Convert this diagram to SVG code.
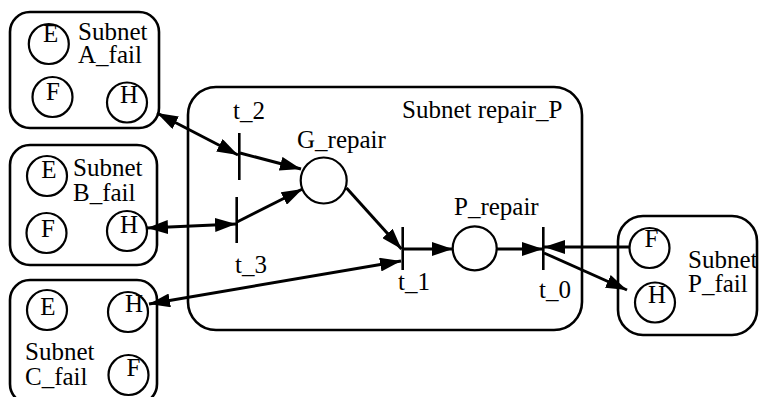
<svg xmlns="http://www.w3.org/2000/svg" width="760" height="397" viewBox="0 0 760 397">
<style>
text { font-family: "Liberation Serif", "Times New Roman", serif; font-size: 25px; fill: #000; }
.c { text-anchor: middle; }
.box { fill: none; stroke: #000; stroke-width: 2.6; }
.pl { fill: #fff; stroke: #000; stroke-width: 2.2; }
.bar { stroke: #000; stroke-width: 2.6; }
.arc { stroke: #000; stroke-width: 3; fill: none; }
</style>
<defs>
<marker id="ah" markerUnits="userSpaceOnUse" markerWidth="22" markerHeight="14" refX="21" refY="7" orient="auto-start-reverse" viewBox="0 0 22 14">
<path d="M0,0 L21,7 L0,14 z" fill="#000"/>
</marker>
</defs>
<rect width="760" height="397" fill="#fff"/>

<g id="subnet-A_fail">
<rect class="box" x="10" y="12" width="149" height="116" rx="20"/>
<circle class="pl" cx="48.8" cy="44" r="20"/>
<circle class="pl" cx="52.5" cy="97" r="20"/>
<circle class="pl" cx="127" cy="102.5" r="20"/>
<text class="c" x="50.7" y="42">E</text>
<text class="c" x="53" y="100">F</text>
<text class="c" x="129" y="103">H</text>
<text x="78" y="40">Subnet</text>
<text x="78" y="63">A_fail</text>
</g>

<g id="subnet-B_fail">
<rect class="box" x="10" y="145" width="147" height="120" rx="20"/>
<circle class="pl" cx="47" cy="176" r="20"/>
<circle class="pl" cx="46.5" cy="233" r="20"/>
<circle class="pl" cx="127" cy="231" r="20"/>
<text class="c" x="49" y="178">E</text>
<text class="c" x="48" y="237">F</text>
<text class="c" x="129" y="233">H</text>
<text x="73" y="176">Subnet</text>
<text x="73" y="201">B_fail</text>
</g>

<g id="subnet-C_fail">
<rect class="box" x="10" y="280" width="147" height="124" rx="20"/>
<circle class="pl" cx="47" cy="310" r="20"/>
<circle class="pl" cx="128" cy="312" r="20"/>
<circle class="pl" cx="128.5" cy="375" r="20"/>
<text class="c" x="48" y="315">E</text>
<text class="c" x="134" y="312">H</text>
<text class="c" x="133.5" y="376">F</text>
<text x="25" y="360">Subnet</text>
<text x="25" y="385">C_fail</text>
</g>

<g id="subnet-P_fail">
<rect class="box" x="618" y="216" width="139" height="119" rx="25"/>
<circle class="pl" cx="649.5" cy="248" r="20"/>
<circle class="pl" cx="655" cy="302.5" r="20"/>
<text class="c" x="651.5" y="247">F</text>
<text class="c" x="657" y="303">H</text>
<text x="688" y="268">Subnet</text>
<text x="688" y="292">P_fail</text>
</g>

<g id="subnet-repair_P">
<rect class="box" x="188" y="87" width="394" height="243" rx="28"/>
<text x="402" y="118">Subnet repair_P</text>
</g>

<g id="t_2">
<line class="bar" x1="239.3" y1="133" x2="239.3" y2="180"/>
<text x="233" y="119">t_2</text>
</g>
<g id="t_3">
<line class="bar" x1="236.7" y1="197" x2="236.7" y2="243"/>
<text x="235" y="273">t_3</text>
</g>
<g id="t_1">
<line class="bar" x1="402.7" y1="227" x2="402.7" y2="270"/>
<text x="398" y="290">t_1</text>
</g>
<g id="t_0">
<line class="bar" x1="543.3" y1="227" x2="543.3" y2="270"/>
<text x="539" y="298">t_0</text>
</g>
<g id="G_repair">
<circle class="pl" cx="323.7" cy="180.5" r="23"/>
<text x="297" y="148">G_repair</text>
</g>
<g id="P_repair">
<circle class="pl" cx="474.7" cy="248.3" r="22"/>
<text x="454" y="215">P_repair</text>
</g>

<g id="connectors">
<line class="arc" x1="157" y1="113" x2="238" y2="155" marker-start="url(#ah)" marker-end="url(#ah)"/>
<line class="arc" x1="240" y1="153" x2="301" y2="169" marker-end="url(#ah)"/>
<line class="arc" x1="147" y1="228" x2="236" y2="224" marker-start="url(#ah)" marker-end="url(#ah)"/>
<line class="arc" x1="237" y1="222" x2="302.5" y2="189" marker-end="url(#ah)"/>
<line class="arc" x1="346.5" y1="188" x2="401.5" y2="249" marker-end="url(#ah)"/>
<line class="arc" x1="149" y1="304" x2="401" y2="261" marker-start="url(#ah)" marker-end="url(#ah)"/>
<line class="arc" x1="403" y1="249" x2="452.7" y2="249" marker-end="url(#ah)"/>
<line class="arc" x1="496.7" y1="249" x2="543" y2="249" marker-end="url(#ah)"/>
<line class="arc" x1="629" y1="247" x2="544" y2="247" marker-end="url(#ah)"/>
<line class="arc" x1="544" y1="253" x2="627" y2="290" marker-end="url(#ah)"/>
</g>
</svg>
